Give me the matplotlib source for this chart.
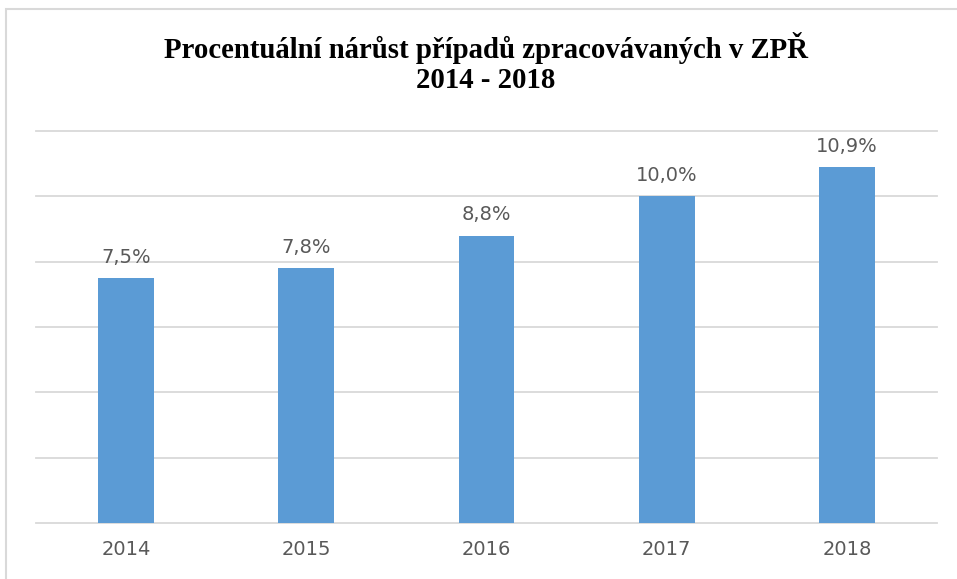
import matplotlib.pyplot as plt
from matplotlib.patches import Rectangle

years = ['2014', '2015', '2016', '2017', '2018']
growth = [7.5, 7.8, 8.8, 10.0, 10.9]
labels = ['7,5%', '7,8%', '8,8%', '10,0%', '10,9%']

fig = plt.figure(figsize=(9.57, 5.79), dpi=100)
ax = fig.add_axes([36 / 957, 56 / 579, 901 / 957, 392 / 579])

ax.bar(range(len(years)), growth, width=0.31, color='#5B9BD5', zorder=3)
for i, (v, lab) in enumerate(zip(growth, labels)):
    ax.text(i, v + 0.35, lab, ha='center', va='bottom', fontsize=14,
            color='#595959', family='DejaVu Sans')

ax.set_xlim(-0.5, 4.5)
ax.set_ylim(0, 12)
ax.set_yticks(range(0, 13, 2))
ax.yaxis.grid(True, color='#d9d9d9', linewidth=1.3, zorder=0)
for gl in ax.get_ygridlines():
    gl.set_clip_on(False)
ax.tick_params(axis='y', left=False, labelleft=False)
ax.tick_params(axis='x', length=0, pad=12, labelsize=14, labelcolor='#595959')
ax.set_xticks(range(len(years)))
ax.set_xticklabels(years)
for s in ax.spines.values():
    s.set_visible(False)

fig.text(486 / 957, 1 - 63 / 579,
         'Procentuální nárůst případů zpracovávaných v ZPŘ\n2014 - 2018',
         ha='center', va='center', fontsize=20.7, fontweight='bold',
         family='Liberation Serif', linespacing=1.12)

fig.patches.append(Rectangle((6 / 957, -0.1), 1.2, 1 - 9 / 579 + 0.1,
                             transform=fig.transFigure, fill=False,
                             edgecolor='#d9d9d9', linewidth=1.5))

fig.savefig('out.png', dpi=100)
